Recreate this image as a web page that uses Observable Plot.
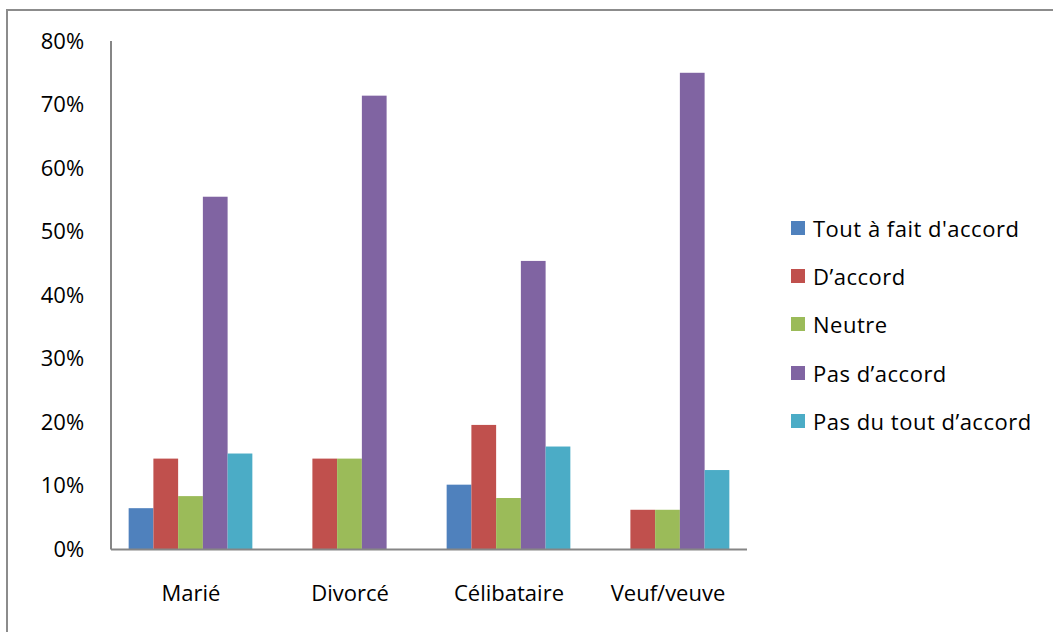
<!DOCTYPE html>
<html>
<head>
<meta charset="utf-8">
<script src="https://cdn.jsdelivr.net/npm/d3@7"></script>
<script src="https://cdn.jsdelivr.net/npm/@observablehq/plot@0.6"></script>
<style>
  html, body { margin: 0; padding: 0; background: #fff; overflow: hidden; }
  body { width: 1053px; height: 632px; position: relative; font-family: "Open Sans", sans-serif; }
  #frame { position: absolute; left: 6px; top: 9px; width: 1100px; height: 700px;
           border-left: 2px solid #8c8c8c; border-top: 2px solid #8c8c8c; }
  #chart { position: absolute; left: 0; top: 0; }
  #legend { position: absolute; left: 791px; top: 204px; font-size: 22px; color: #000; letter-spacing: 0.5px; }
  .row { display: flex; align-items: center; height: 48.2px; white-space: nowrap; }
  .sw { width: 14px; height: 14px; margin-right: 8px; flex: none; }
</style>
</head>
<body>
<div id="frame"></div>
<div id="chart"></div>
<div id="legend"></div>
<script>
const categories = ["Marié", "Divorcé", "Célibataire", "Veuf/veuve"];
const series = ["Tout à fait d'accord", "D’accord", "Neutre", "Pas d’accord", "Pas du tout d’accord"];
const colors = ["#4F81BD", "#C0504D", "#9BBB59", "#8064A2", "#4BACC6"];

const toutAFaitDaccord = [0.065, 0, 0.102, 0];
const daccord          = [0.143, 0.143, 0.196, 0.0625];
const neutre           = [0.084, 0.143, 0.081, 0.0625];
const pasDaccord       = [0.555, 0.714, 0.454, 0.75];
const pasDuToutDaccord = [0.151, 0, 0.162, 0.125];

const yTicks = [0, 0.1, 0.2, 0.3, 0.4, 0.5, 0.6, 0.7, 0.8];

const seriesValues = [toutAFaitDaccord, daccord, neutre, pasDaccord, pasDuToutDaccord];
const rows = [];
categories.forEach((c, i) => {
  series.forEach((s, j) => rows.push({category: c, series: s, value: seriesValues[j][i]}));
});

const chart = Plot.plot({
  width: 780,
  height: 632,
  marginLeft: 111,
  marginRight: 33,
  marginTop: 41,
  marginBottom: 82.5,
  style: {fontFamily: "Open Sans", fontSize: "22px", color: "#000", background: "transparent"},
  facet: {data: rows, x: "category"},
  fx: {domain: categories, paddingInner: 0.222, paddingOuter: 0.111, round: false, axis: "bottom",
       label: null, tickSize: 0, tickPadding: 35},
  x: {domain: series, padding: 0, round: false, axis: null},
  y: {domain: [0, 0.8], ticks: yTicks, tickFormat: d3.format(".0%"), label: null,
      tickSize: 0, tickPadding: 45},
  color: {domain: series, range: colors},
  marks: [
    Plot.barY(rows, {x: "series", y: "value", fill: "series", insetLeft: 0, insetRight: 0})
  ]
});
document.getElementById("chart").appendChild(chart);

// axis lines drawn from the library's own scales
const svg = d3.select(chart.tagName.toLowerCase() === "svg" ? chart : chart.querySelector("svg"));
const ys = chart.scale("y");
const fxr = chart.scale("fx").range;
const x0 = fxr[0], x1 = fxr[1];
svg.append("line")
  .attr("x1", x0).attr("x2", x0)
  .attr("y1", ys.apply(0.8)).attr("y2", ys.apply(0))
  .attr("stroke", "#868686").attr("stroke-width", 2);
svg.append("line")
  .attr("x1", x0).attr("x2", x1)
  .attr("y1", ys.apply(0)).attr("y2", ys.apply(0))
  .attr("stroke", "#868686").attr("stroke-width", 2);

const legend = d3.select("#legend");
series.forEach((s, i) => {
  const r = legend.append("div").attr("class", "row");
  r.append("div").attr("class", "sw").style("background", colors[i]);
  r.append("span").text(s);
});
</script>
</body>
</html>
